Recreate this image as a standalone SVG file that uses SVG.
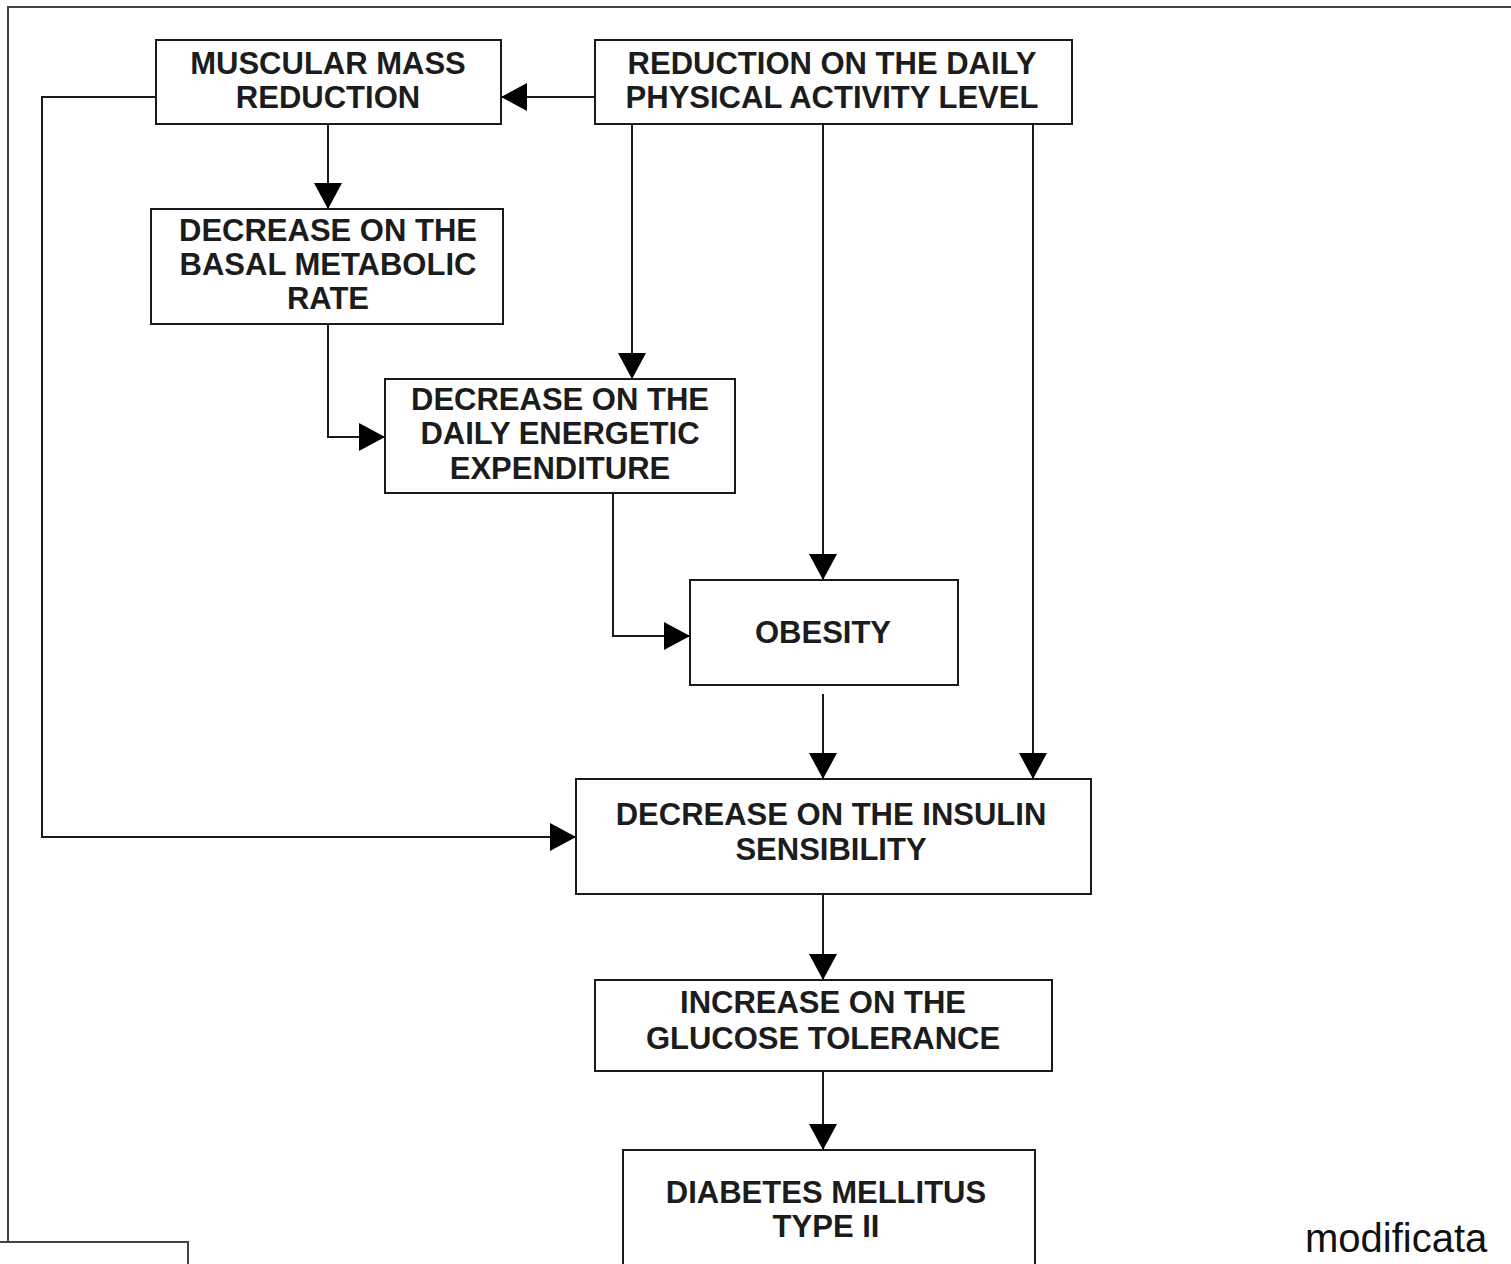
<svg xmlns="http://www.w3.org/2000/svg" width="1511" height="1264" viewBox="0 0 1511 1264">
<style>
.box{fill:#fff;stroke:#1a1a1a;stroke-width:2}
.t{font-family:"Liberation Sans",Arial,sans-serif;font-weight:bold;font-size:31px;fill:#1c1c1c;text-anchor:middle}
.c{fill:none;stroke:#1a1a1a;stroke-width:2}
.frame{fill:none;stroke:#444;stroke-width:2}
</style>
<defs>
<marker id="ah" markerUnits="userSpaceOnUse" markerWidth="26" markerHeight="28" refX="26" refY="14" orient="auto">
<path d="M0,0 L26,14 L0,28 z" fill="#000"/>
</marker>
</defs>
<rect width="1511" height="1264" fill="#fff"/>
<g id="frame">
<path class="frame" d="M1511,7 H8 V1242"/>
<path class="frame" d="M0,1242 H188 V1264"/>
</g>
<g id="connectors">
<path class="c" d="M595,97 H501" marker-end="url(#ah)"/>
<path class="c" d="M328,124 V209" marker-end="url(#ah)"/>
<path class="c" d="M328,324 V437 H385" marker-end="url(#ah)"/>
<path class="c" d="M632,124 V379" marker-end="url(#ah)"/>
<path class="c" d="M823,124 V580" marker-end="url(#ah)"/>
<path class="c" d="M1033,124 V779" marker-end="url(#ah)"/>
<path class="c" d="M613,493 V636 H690" marker-end="url(#ah)"/>
<path class="c" d="M823,694 V779" marker-end="url(#ah)"/>
<path class="c" d="M156,97 H42 V837 H576" marker-end="url(#ah)"/>
<path class="c" d="M823,894 V980" marker-end="url(#ah)"/>
<path class="c" d="M823,1064 V1150" marker-end="url(#ah)"/>
</g>
<g id="n1">
<rect class="box" x="156" y="40" width="345" height="84"/>
<text class="t" x="328" y="74">MUSCULAR MASS</text>
<text class="t" x="328" y="108">REDUCTION</text>
</g>
<g id="n2">
<rect class="box" x="595" y="40" width="477" height="84"/>
<text class="t" x="832" y="74">REDUCTION ON THE DAILY</text>
<text class="t" x="832" y="108">PHYSICAL ACTIVITY LEVEL</text>
</g>
<g id="n3">
<rect class="box" x="151" y="209" width="352" height="115"/>
<text class="t" x="328" y="241">DECREASE ON THE</text>
<text class="t" x="328" y="275">BASAL METABOLIC</text>
<text class="t" x="328" y="309">RATE</text>
</g>
<g id="n4">
<rect class="box" x="385" y="379" width="350" height="114"/>
<text class="t" x="560" y="410">DECREASE ON THE</text>
<text class="t" x="560" y="444">DAILY ENERGETIC</text>
<text class="t" x="560" y="479">EXPENDITURE</text>
</g>
<g id="n5">
<rect class="box" x="690" y="580" width="268" height="105"/>
<text class="t" x="823" y="643">OBESITY</text>
</g>
<g id="n6">
<rect class="box" x="576" y="779" width="515" height="115"/>
<text class="t" x="831" y="825">DECREASE ON THE INSULIN</text>
<text class="t" x="831" y="860">SENSIBILITY</text>
</g>
<g id="n7">
<rect class="box" x="595" y="980" width="457" height="91"/>
<text class="t" x="823" y="1013">INCREASE ON THE</text>
<text class="t" x="823" y="1049">GLUCOSE TOLERANCE</text>
</g>
<g id="n8">
<rect class="box" x="623" y="1150" width="412" height="130"/>
<text class="t" x="826" y="1203">DIABETES MELLITUS</text>
<text class="t" x="826" y="1237">TYPE II</text>
</g>
<text x="1305" y="1252" font-family="Liberation Sans,Arial,sans-serif" font-size="40" fill="#111">modificata</text>
</svg>
